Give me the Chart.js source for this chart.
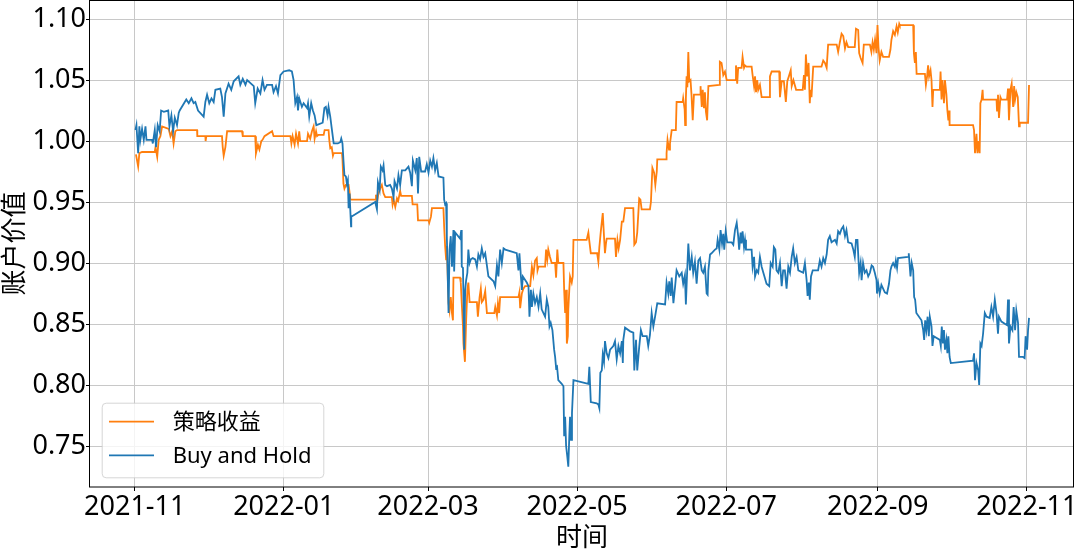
<!DOCTYPE html>
<html><head><meta charset="utf-8">
<script src="https://cdn.jsdelivr.net/npm/chart.js@4.4.1/dist/chart.umd.min.js"></script>
<style>html,body{margin:0;padding:0;background:#fff;}canvas{display:block;}</style>
</head><body>
<canvas id="c" width="1080" height="554"></canvas>
<script>
// x = days since 2021-11-01
const xTickDays = [0, 61, 120, 181, 242, 304, 365];
const xTickLabels = ['2021-11', '2022-01', '2022-03', '2022-05', '2022-07', '2022-09', '2022-11'];
const yTicks = [0.75, 0.80, 0.85, 0.90, 0.95, 1.00, 1.05, 1.10];
const yTickLabels = ['0.75', '0.80', '0.85', '0.90', '0.95', '1.00', '1.05', '1.10'];
const seriesNames = ['策略收益', 'Buy and Hold'];
const xTitle = '时间';
const yTitle = '账户价值';

const strategyPoints = [
[0.5,0.989],[1.4,0.979],[1.9,0.990],[3.0,0.991],[8.2,0.991],[8.5,0.995],[9.2,0.987],[9.8,1.001],[10.5,1.004],[11.2,1.012],
[13.9,1.010],[14.6,1.004],[15.3,1.008],[15.9,0.998],[16.6,1.008],[17.3,1.009],[25.5,1.009],[25.6,1.004],[28.9,1.004],[29.0,1.000],
[29.3,1.004],[35.7,1.004],[36.0,0.995],[36.4,0.988],[37.1,0.995],[37.8,1.008],[43.9,1.008],[44.2,1.004],[49.3,1.004],[49.6,0.990],
[50.4,0.997],[51.0,0.993],[51.8,1.000],[52.3,1.001],[53.1,1.004],[56.2,1.008],[56.8,1.004],[63.7,1.004],[64.1,0.998],[64.6,1.004],
[65.4,0.997],[66.0,1.006],[66.8,0.998],[67.3,1.008],[67.7,1.000],[70.5,1.000],[70.9,1.006],[71.8,1.002],[72.5,1.008],[73.2,1.012],
[73.6,1.002],[74.2,1.008],[74.6,1.004],[75.2,1.005],[77.3,1.005],[77.7,1.009],[79.3,1.009],[79.6,1.001],[80.0,0.994],[80.6,0.995],
[81.1,0.988],[81.4,0.990],[84.8,0.990],[85.0,0.985],[85.4,0.965],[85.8,0.961],[86.4,0.964],[87.5,0.964],[87.9,0.958],[88.2,0.952],
[98.4,0.952],[98.7,0.956],[99.1,0.949],[99.7,0.957],[100.4,0.961],[101.1,0.964],[101.8,0.957],[102.5,0.954],[105.2,0.954],[105.5,0.948],
[105.9,0.952],[106.6,0.946],[107.3,0.953],[107.8,0.951],[108.6,0.959],[109.0,0.955],[113.4,0.955],[113.7,0.948],[115.6,0.948],[115.9,0.935],
[120.2,0.935],[120.5,0.933],[121.2,0.938],[121.6,0.945],[126.3,0.945],[126.6,0.930],[127.0,0.914],[127.4,0.903],[127.7,0.914],[128.4,0.867],
[128.8,0.861],[129.3,0.872],[129.8,0.859],[130.2,0.853],[130.4,0.888],[133.1,0.888],[133.4,0.884],[133.8,0.867],[134.3,0.848],[134.5,0.834],
[135.1,0.819],[135.6,0.853],[136.1,0.878],[136.5,0.884],[137.0,0.868],[140.0,0.868],[140.4,0.856],[141.1,0.872],[141.6,0.879],[142.0,0.868],
[142.7,0.870],[143.4,0.877],[144.1,0.859],[147.1,0.859],[147.5,0.864],[148.2,0.857],[148.6,0.867],[149.1,0.859],[149.5,0.872],[157.0,0.872],
[157.4,0.876],[157.7,0.863],[158.4,0.875],[159.0,0.879],[159.7,0.881],[161.8,0.881],[162.5,0.897],[163.1,0.890],[163.8,0.902],[164.5,0.904],
[164.8,0.894],[165.2,0.897],[167.9,0.897],[168.3,0.911],[168.8,0.903],[169.2,0.911],[169.9,0.905],[170.6,0.900],[172.0,0.900],[172.4,0.888],
[172.9,0.911],[173.3,0.900],[175.4,0.900],[175.7,0.878],[176.1,0.859],[176.5,0.878],[176.8,0.834],[177.2,0.840],[177.4,0.862],[177.8,0.878],
[178.1,0.889],[178.8,0.884],[179.2,0.889],[179.5,0.919],[184.9,0.919],[185.6,0.925],[186.0,0.918],[186.6,0.908],[189.2,0.908],[189.7,0.901],
[190.1,0.913],[190.7,0.926],[191.5,0.941],[192.0,0.922],[192.4,0.908],[192.8,0.916],[193.1,0.920],[196.5,0.920],[196.9,0.905],[197.5,0.919],
[198.0,0.912],[198.6,0.919],[199.3,0.934],[199.9,0.934],[200.6,0.945],[204.0,0.945],[204.4,0.915],[205.1,0.917],[205.6,0.925],[206.4,0.953],
[206.9,0.952],[207.4,0.944],[210.8,0.944],[211.2,0.950],[211.8,0.978],[212.5,0.974],[213.0,0.964],[213.6,0.975],[213.8,0.985],[217.4,0.985],
[217.6,0.990],[218.0,1.001],[218.6,0.993],[219.0,0.998],[219.7,1.009],[221.4,1.009],[221.7,1.032],[224.2,1.032],[224.4,1.035],[225.0,1.026],
[225.2,1.013],[225.5,1.035],[225.8,1.053],[226.1,1.044],[226.5,1.073],[226.9,1.049],[227.4,1.050],[227.8,1.038],[228.3,1.017],[228.8,1.038],
[231.3,1.038],[231.5,1.045],[232.0,1.028],[232.4,1.042],[232.9,1.027],[233.3,1.040],[233.7,1.024],[234.2,1.017],[234.7,1.045],[239.2,1.046],
[239.4,1.065],[240.1,1.064],[240.8,1.054],[241.5,1.057],[242.2,1.050],[245.6,1.050],[246.0,1.062],[246.5,1.047],[246.9,1.060],[248.3,1.060],
[248.7,1.069],[249.3,1.060],[249.7,1.062],[250.3,1.061],[252.4,1.061],[252.8,1.054],[253.4,1.045],[253.8,1.053],[254.2,1.040],[254.7,1.050],
[255.1,1.042],[255.8,1.046],[256.5,1.036],[259.6,1.036],[259.9,1.053],[260.6,1.057],[263.7,1.057],[264.0,1.036],[264.7,1.049],[265.6,1.049],
[266.4,1.032],[267.0,1.049],[267.8,1.054],[268.4,1.058],[268.8,1.045],[269.5,1.050],[270.6,1.042],[273.3,1.042],[273.8,1.054],[274.2,1.042],
[274.6,1.071],[275.1,1.053],[275.7,1.064],[276.2,1.031],[276.5,1.042],[276.9,1.036],[277.6,1.061],[281.0,1.061],[281.7,1.066],[282.4,1.064],
[283.1,1.060],[283.7,1.079],[287.2,1.079],[287.8,1.073],[288.5,1.081],[289.2,1.088],[289.9,1.086],[290.6,1.076],[291.2,1.081],[291.9,1.077],
[294.6,1.077],[295.1,1.092],[296.0,1.091],[296.4,1.072],[297.0,1.068],[297.8,1.064],[298.3,1.079],[300.8,1.079],[301.4,1.073],[301.9,1.081],
[302.4,1.075],[302.9,1.083],[303.5,1.072],[303.9,1.095],[304.3,1.077],[304.8,1.066],[305.5,1.073],[306.2,1.069],[308.6,1.069],[309.2,1.075],
[309.6,1.083],[310.3,1.090],[311.0,1.087],[311.7,1.094],[312.2,1.089],[312.8,1.096],[313.0,1.095],[318.5,1.095],[318.8,1.072],[319.2,1.064],
[319.6,1.073],[319.9,1.055],[323.3,1.055],[323.7,1.046],[324.2,1.053],[324.6,1.062],[325.0,1.053],[325.6,1.058],[326.0,1.050],[326.4,1.028],
[326.7,1.042],[329.4,1.042],[329.7,1.057],[330.1,1.034],[330.5,1.050],[331.1,1.031],[331.5,1.050],[332.1,1.038],[332.5,1.025],[332.9,1.017],
[333.2,1.025],[333.4,1.013],[343.0,1.013],[343.4,1.009],[343.8,0.990],[344.4,1.006],[344.8,0.990],[345.2,1.000],[345.7,0.990],[346.0,1.031],
[346.5,1.034],[346.9,1.042],[347.1,1.034],[352.6,1.034],[352.8,1.025],[353.2,1.038],[353.6,1.019],[354.2,1.036],[354.6,1.034],[356.9,1.034],
[357.3,1.043],[357.7,1.017],[358.3,1.042],[358.8,1.047],[359.4,1.028],[359.8,1.045],[360.2,1.034],[360.7,1.040],[361.3,1.036],[361.8,1.012],
[362.1,1.015],[365.5,1.015],[365.9,1.046]
];

const holdPoints = [
[0.3,1.009],[0.7,1.013],[1.4,0.990],[1.9,1.012],[2.3,1.001],[3.0,1.010],[3.7,1.001],[4.4,1.012],[4.8,1.001],[7.1,1.001],
[7.4,0.998],[8.2,1.009],[8.7,0.995],[9.4,1.013],[10.2,1.008],[10.8,1.025],[11.9,1.024],[13.7,1.025],[14.2,1.012],[15.0,1.021],
[15.7,1.008],[16.4,1.019],[17.3,1.013],[18.0,1.023],[18.4,1.025],[21.1,1.034],[22.1,1.031],[23.2,1.035],[24.1,1.031],[24.8,1.032],
[25.9,1.025],[28.2,1.020],[28.9,1.032],[29.6,1.038],[30.5,1.031],[31.4,1.035],[32.3,1.032],[33.0,1.042],[35.0,1.043],[35.7,1.036],
[36.4,1.020],[37.1,1.039],[38.4,1.047],[39.5,1.042],[40.5,1.049],[42.5,1.053],[43.2,1.046],[44.2,1.051],[45.3,1.046],[46.0,1.050],
[48.7,1.045],[49.3,1.031],[50.3,1.043],[51.4,1.039],[52.3,1.050],[53.1,1.042],[54.1,1.046],[56.2,1.046],[56.8,1.040],[57.8,1.045],
[58.6,1.039],[59.6,1.054],[60.9,1.057],[63.2,1.058],[64.3,1.057],[65.0,1.050],[65.4,1.039],[65.7,1.031],[66.4,1.036],[66.8,1.025],
[67.3,1.035],[68.4,1.028],[69.1,1.031],[70.5,1.027],[70.9,1.031],[71.4,1.020],[72.2,1.031],[72.9,1.025],[73.6,1.021],[74.3,1.013],
[76.9,1.015],[77.6,1.027],[78.2,1.028],[78.9,1.021],[79.3,1.028],[80.0,1.020],[80.7,1.009],[81.4,0.998],[83.1,0.998],[84.1,0.999],
[84.5,1.002],[85.0,0.998],[85.4,0.984],[85.8,0.972],[86.4,0.971],[86.8,0.965],[87.2,0.968],[87.5,0.945],[87.9,0.957],[88.5,0.930],
[88.6,0.938],[98.4,0.950],[99.1,0.944],[99.5,0.966],[100.2,0.960],[100.7,0.979],[101.4,0.976],[101.8,0.980],[102.5,0.964],[103.2,0.963],
[104.5,0.964],[105.2,0.961],[105.9,0.954],[106.3,0.967],[107.3,0.961],[107.9,0.972],[108.6,0.964],[109.3,0.976],[110.7,0.976],[112.0,0.979],
[112.7,0.974],[113.4,0.963],[113.8,0.984],[114.8,0.976],[115.4,0.986],[115.9,0.957],[116.4,0.987],[117.2,0.975],[118.8,0.975],[119.5,0.981],
[120.2,0.974],[120.9,0.984],[121.6,0.979],[122.2,0.986],[122.9,0.976],[123.6,0.982],[124.3,0.971],[126.3,0.970],[126.6,0.952],[127.0,0.948],
[127.4,0.949],[127.7,0.922],[128.4,0.859],[128.8,0.911],[129.3,0.922],[129.8,0.897],[130.4,0.927],[130.7,0.893],[131.1,0.925],[133.1,0.920],
[133.6,0.927],[133.8,0.897],[134.3,0.896],[134.5,0.872],[134.8,0.829],[135.2,0.878],[135.6,0.886],[136.1,0.892],[136.5,0.911],[137.0,0.900],
[137.5,0.903],[138.3,0.904],[139.3,0.903],[140.0,0.897],[140.6,0.907],[141.3,0.903],[142.0,0.912],[142.7,0.905],[143.4,0.908],[144.7,0.889],
[146.8,0.885],[147.5,0.881],[148.2,0.898],[148.8,0.889],[149.5,0.911],[150.2,0.900],[150.9,0.912],[151.6,0.911],[156.3,0.908],[157.0,0.894],
[157.4,0.908],[158.0,0.889],[158.4,0.878],[158.8,0.889],[160.4,0.884],[161.1,0.881],[161.5,0.856],[162.1,0.878],[162.5,0.864],[163.1,0.875],
[163.8,0.867],[164.5,0.872],[165.2,0.864],[165.9,0.875],[166.5,0.862],[167.9,0.856],[168.6,0.870],[169.2,0.864],[169.7,0.848],[170.2,0.851],
[170.9,0.845],[171.6,0.829],[172.0,0.823],[172.4,0.814],[172.8,0.815],[173.3,0.804],[174.7,0.801],[175.4,0.799],[175.7,0.758],[176.1,0.774],
[176.5,0.750],[177.0,0.741],[177.4,0.733],[177.8,0.758],[178.1,0.774],[178.5,0.755],[178.9,0.777],[179.5,0.804],[185.6,0.801],[186.0,0.815],
[186.6,0.786],[189.0,0.785],[189.7,0.784],[190.1,0.781],[190.5,0.810],[191.1,0.812],[191.5,0.825],[192.0,0.819],[192.4,0.836],[193.1,0.826],
[193.8,0.822],[194.5,0.829],[195.8,0.832],[196.5,0.836],[197.2,0.821],[197.9,0.832],[198.6,0.826],[199.3,0.836],[199.7,0.818],[199.9,0.837],
[200.6,0.847],[202.7,0.844],[204.0,0.843],[204.4,0.812],[205.1,0.837],[205.6,0.812],[206.4,0.831],[207.1,0.845],[207.8,0.840],[209.5,0.840],
[210.1,0.832],[210.8,0.841],[211.5,0.859],[212.2,0.848],[212.9,0.856],[213.8,0.867],[217.0,0.866],[217.6,0.884],[218.3,0.875],[218.7,0.885],
[219.3,0.873],[219.7,0.888],[220.4,0.867],[221.1,0.881],[221.7,0.894],[222.8,0.889],[223.8,0.892],[224.4,0.883],[225.1,0.890],[225.5,0.866],
[226.1,0.897],[226.5,0.916],[227.2,0.894],[227.9,0.905],[228.5,0.892],[229.2,0.901],[229.9,0.883],[230.6,0.902],[231.3,0.904],[232.0,0.894],
[232.6,0.892],[233.3,0.897],[234.0,0.875],[234.4,0.874],[234.7,0.894],[235.4,0.907],[236.0,0.908],[237.4,0.911],[238.1,0.912],[238.5,0.919],
[239.2,0.911],[239.7,0.927],[240.3,0.916],[240.8,0.924],[241.2,0.911],[241.8,0.926],[242.4,0.917],[244.2,0.917],[244.9,0.915],[245.6,0.927],
[246.3,0.933],[246.9,0.922],[247.3,0.911],[247.9,0.925],[248.3,0.916],[248.7,0.926],[249.3,0.913],[249.7,0.919],[250.1,0.911],[252.4,0.911],
[252.8,0.897],[253.4,0.905],[253.8,0.889],[254.5,0.894],[255.1,0.892],[255.8,0.905],[256.5,0.897],[257.2,0.892],[258.5,0.883],[259.6,0.881],
[260.2,0.900],[261.0,0.897],[261.5,0.913],[262.1,0.911],[262.6,0.894],[263.3,0.892],[264.0,0.900],[264.7,0.881],[265.3,0.894],[266.0,0.894],
[266.7,0.879],[267.4,0.897],[268.1,0.892],[268.8,0.905],[269.4,0.912],[270.1,0.900],[270.8,0.905],[271.5,0.894],[273.5,0.892],[274.2,0.900],
[274.9,0.886],[275.3,0.873],[275.8,0.884],[276.2,0.870],[276.7,0.889],[277.4,0.894],[279.6,0.894],[280.3,0.902],[281.0,0.897],[281.7,0.904],
[282.4,0.900],[283.1,0.907],[283.7,0.919],[284.4,0.922],[285.1,0.917],[286.5,0.919],[287.2,0.916],[287.8,0.926],[288.5,0.924],[289.2,0.928],
[289.9,0.930],[290.6,0.922],[291.2,0.927],[291.9,0.917],[293.3,0.916],[294.0,0.911],[294.6,0.905],[295.1,0.919],[295.7,0.919],[296.4,0.892],
[297.0,0.900],[297.4,0.886],[298.0,0.900],[298.7,0.892],[299.4,0.894],[300.1,0.889],[300.8,0.892],[301.5,0.898],[302.1,0.897],[302.8,0.892],
[303.5,0.886],[303.7,0.875],[304.2,0.883],[304.8,0.875],[305.5,0.882],[306.9,0.876],[307.8,0.875],[308.6,0.883],[309.2,0.894],[309.6,0.897],
[310.3,0.900],[311.0,0.897],[311.4,0.902],[311.9,0.896],[312.3,0.904],[316.4,0.905],[316.7,0.908],[317.4,0.889],[317.9,0.900],[318.5,0.894],
[318.9,0.872],[319.3,0.870],[319.8,0.859],[321.9,0.853],[322.6,0.845],[323.0,0.837],[323.4,0.853],[323.9,0.845],[324.4,0.856],[324.9,0.840],
[325.3,0.856],[326.0,0.848],[326.4,0.832],[326.9,0.840],[329.4,0.837],[329.8,0.832],[330.2,0.848],[330.7,0.834],[331.1,0.845],[331.5,0.829],
[332.1,0.837],[332.5,0.826],[332.9,0.840],[333.4,0.823],[333.9,0.818],[343.0,0.820],[343.4,0.826],[343.8,0.804],[344.4,0.818],[345.1,0.812],
[345.5,0.800],[346.0,0.834],[346.5,0.832],[347.1,0.842],[347.8,0.859],[348.5,0.856],[349.8,0.855],[350.5,0.864],[351.2,0.856],[351.9,0.870],
[352.6,0.859],[353.2,0.842],[353.6,0.856],[354.6,0.852],[356.9,0.849],[357.3,0.870],[357.7,0.834],[358.3,0.848],[359.1,0.845],[359.6,0.864],
[360.2,0.845],[360.7,0.861],[361.4,0.851],[361.8,0.823],[363.4,0.823],[364.1,0.822],[364.5,0.840],[365.1,0.829],[365.5,0.845],[365.9,0.855]
];

const FONT = '"Noto Sans", "Noto Sans CJK SC", sans-serif';

const framePlugin = {
  id: 'frame',
  afterDatasetsDraw(chart) {
    const { ctx, chartArea: a } = chart;
    ctx.save();
    ctx.strokeStyle = '#000';
    ctx.lineWidth = 1;
    ctx.strokeRect(a.left - 0.5, a.top + 0.5, a.right - a.left, a.bottom - a.top - 0.5);
    ctx.restore();
  },
  afterDraw(chart) {
    const { ctx, chartArea: a } = chart;
    const x = a.left + 11.7, y = a.bottom - 84.3, w = 221.6, h = 74.6, r = 4;
    ctx.save();
    ctx.beginPath();
    ctx.roundRect(x + 0.5, y + 0.5, w, h, r);
    ctx.fillStyle = 'rgba(255,255,255,0.8)';
    ctx.fill();
    ctx.strokeStyle = 'rgba(204,204,204,0.8)';
    ctx.lineWidth = 1;
    ctx.stroke();
    const colors = ['#ff7f0e', '#1f77b4'];
    const rows = [y + 19, y + 52.6];
    ctx.font = '22px ' + FONT;
    ctx.textBaseline = 'middle';
    ctx.textAlign = 'left';
    for (let i = 0; i < 2; i++) {
      ctx.beginPath();
      ctx.moveTo(x + 7.3, rows[i]);
      ctx.lineTo(x + 52.3, rows[i]);
      ctx.strokeStyle = colors[i];
      ctx.lineWidth = 1.8;
      ctx.stroke();
      ctx.fillStyle = '#000';
      ctx.fillText(seriesNames[i], x + 71, rows[i] + 1);
    }
    ctx.restore();
  }
};

const toXY = pts => pts.map(p => ({ x: p[0], y: p[1] }));

new Chart(document.getElementById('c'), {
  type: 'line',
  data: {
    datasets: [
      { label: seriesNames[1], data: toXY(holdPoints), borderColor: '#1f77b4', borderWidth: 1.8, pointRadius: 0, tension: 0, fill: false },
      { label: seriesNames[0], data: toXY(strategyPoints), borderColor: '#ff7f0e', borderWidth: 1.8, pointRadius: 0, tension: 0, fill: false }
    ]
  },
  options: {
    responsive: false,
    devicePixelRatio: 1,
    animation: false,
    layout: { padding: { left: 0, right: 6, top: 0, bottom: 0 } },
    plugins: { legend: { display: false }, tooltip: { enabled: false } },
    scales: {
      x: {
        type: 'linear',
        min: -18.3, max: 384.3,
        border: { display: false },
        grid: { color: '#c8c8c8', lineWidth: 1, tickColor: '#000', tickLength: 4 },
        ticks: {
          autoSkip: false, maxRotation: 0, minRotation: 0, padding: 0,
          color: '#000', font: { family: FONT, size: 27 },
          callback: (v) => { const i = xTickDays.indexOf(v); return i >= 0 ? xTickLabels[i] : ''; }
        },
        afterBuildTicks: (s) => { s.ticks = xTickDays.map(v => ({ value: v })); },
        afterFit: (s) => { s.height = 67; s.paddingLeft = 0; s.paddingRight = 0; },
        title: { display: true, text: xTitle, color: '#000', font: { family: FONT, size: 26 }, padding: 0 }
      },
      y: {
        type: 'linear',
        min: 0.7164, max: 1.1156,
        border: { display: false },
        grid: { color: '#c8c8c8', lineWidth: 1, tickColor: '#000', tickLength: 4 },
        ticks: {
          padding: 0, color: '#000', font: { family: FONT, size: 27 },
          callback: (v) => { const i = yTicks.findIndex(t => Math.abs(t - v) < 1e-6); return i >= 0 ? yTickLabels[i] : ''; }
        },
        afterBuildTicks: (s) => { s.ticks = yTicks.map(v => ({ value: v })); },
        afterFit: (s) => { s.width = 90; s.paddingTop = 0; s.paddingBottom = 0; },
        title: { display: true, text: yTitle, color: '#000', font: { family: FONT, size: 26 }, padding: 0 }
      }
    }
  },
  plugins: [framePlugin]
});
</script>
</body></html>
